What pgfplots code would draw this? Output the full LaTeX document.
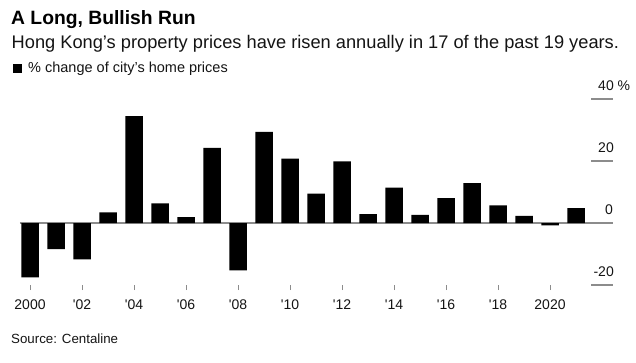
\documentclass[border=0pt]{standalone}
\usepackage{fontspec}
\setmainfont{Liberation Sans}
\usepackage{pgfplots}
\pgfplotsset{compat=1.18}
\definecolor{gridgray}{RGB}{140,140,140}
\definecolor{txt}{RGB}{20,20,20}
\begin{document}
\begin{tikzpicture}
\path (0pt,0pt) rectangle (636pt,-363pt);
\node[anchor=base west, inner sep=0pt, font=\fontsize{19.3pt}{21pt}\selectfont\bfseries] at (11pt,-25pt) {A Long, Bullish Run};
\node[anchor=base west, inner sep=0pt, font=\fontsize{18.25pt}{20pt}\selectfont, text=txt] at (11.5pt,-48.7pt) {Hong Kong's property prices have risen annually in 17 of the past 19 years.};
\fill[black] (13pt,-64.5pt) rectangle (21.5pt,-73pt);
\node[anchor=base west, inner sep=0pt, font=\fontsize{14.5pt}{16pt}\selectfont, text=txt] at (28pt,-72.7pt) {\% change of city's home prices};
\node[anchor=base west, inner sep=0pt, font=\fontsize{13.3pt}{15pt}\selectfont, text=txt] at (11pt,-343pt) {Source: Centaline};
\begin{axis}[
  at={(20pt,-285pt)}, anchor=south west,
  scale only axis, width=593pt, height=186pt,
  xmin=1999.615, xmax=2022.423, ymin=-20, ymax=40,
  clip=false,
  axis line style={draw=none},
  ytick=\empty,
  xtick={2000,2002,...,2020},
  xticklabels={2000,\textquotesingle 02,\textquotesingle 04,\textquotesingle 06,\textquotesingle 08,\textquotesingle 10,\textquotesingle 12,\textquotesingle 14,\textquotesingle 16,\textquotesingle 18,2020},
  xtick pos=bottom, xtick align=outside,
  major tick length=5pt,
  tick style={draw=gridgray, line width=1pt},
  xticklabel style={font=\fontsize{14pt}{15pt}\selectfont, text=txt, anchor=base, yshift=-19pt},
  /pgf/number format/assume math mode=true,
]
\draw[gridgray, line width=1.3pt] (axis cs:1999.615,0) -- (axis cs:2022.423,0);
\draw[gridgray, line width=1.3pt] (axis cs:2021.577,-20) -- (axis cs:2022.423,-20);
\draw[gridgray, line width=1.3pt] (axis cs:2021.577,20) -- (axis cs:2022.423,20);
\draw[gridgray, line width=1.3pt] (axis cs:2021.577,40) -- (axis cs:2022.423,40);
\addplot[ybar, bar width=17.5pt, fill=black, draw=none] coordinates {
(2000,-17.5) (2001,-8.4) (2002,-11.7) (2003,3.4) (2004,34.5) (2005,6.3)
(2006,1.9) (2007,24.2) (2008,-15.3) (2009,29.4) (2010,20.8) (2011,9.5)
(2012,19.9) (2013,2.9) (2014,11.4) (2015,2.6) (2016,8.0) (2017,12.9)
(2018,5.7) (2019,2.3) (2020,-0.75) (2021,4.8)
};
\draw[gridgray, line width=1.3pt] (axis cs:2021.577,0) -- (axis cs:2022.423,0);
\node[anchor=base east, inner sep=0pt, xshift=1pt, yshift=8.7pt, font=\fontsize{14pt}{15pt}\selectfont, text=txt] at (axis cs:2022.423,40) {40\rlap{ \%}};
\node[anchor=base east, inner sep=0pt, xshift=1pt, yshift=8.7pt, font=\fontsize{14pt}{15pt}\selectfont, text=txt] at (axis cs:2022.423,20) {20};
\node[anchor=base east, inner sep=0pt, yshift=8.5pt, font=\fontsize{14pt}{15pt}\selectfont, text=txt] at (axis cs:2022.423,0) {0};
\node[anchor=base east, inner sep=0pt, xshift=1pt, yshift=9pt, font=\fontsize{14pt}{15pt}\selectfont, text=txt] at (axis cs:2022.423,-20) {-20};
\end{axis}
\end{tikzpicture}
\end{document}
